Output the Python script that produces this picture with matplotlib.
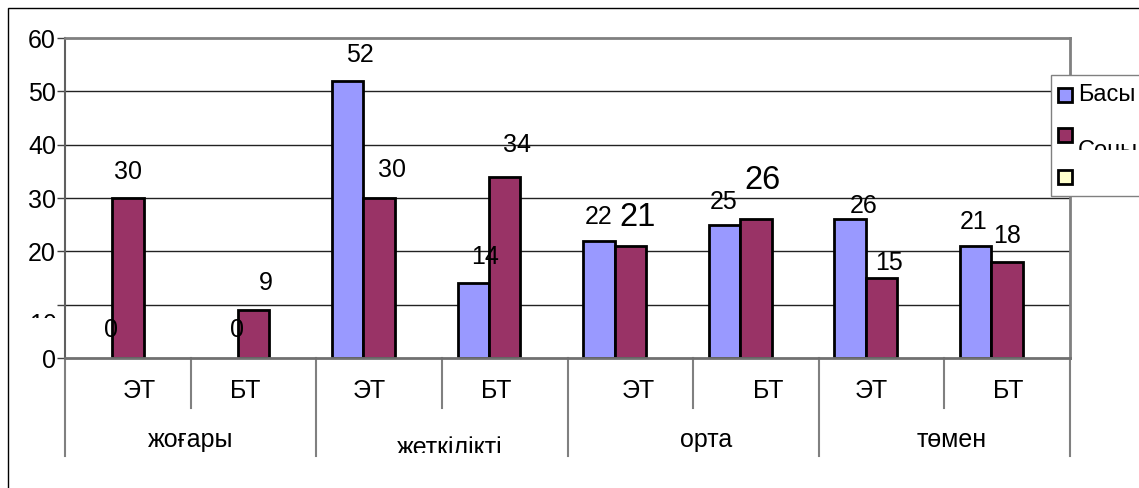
import matplotlib
matplotlib.use("Agg")
import matplotlib.pyplot as plt
import matplotlib.patches as patches
from matplotlib.transforms import Bbox, TransformedBbox
import numpy as np

plt.rcParams['font.family'] = ['Liberation Sans', 'DejaVu Sans']

# Деректер
топтар = ["жоғары", "жеткілікті", "орта", "төмен"]
ішкі_санаттар = ["ЭТ", "БТ", "ЭТ", "БТ", "ЭТ", "БТ", "ЭТ", "БТ"]
басы = [0, 0, 52, 14, 22, 25, 26, 21]
соңы = [30, 9, 30, 34, 21, 26, 15, 18]
серия_аттары = ["Басы", "Соңы", ""]

# Түстер (Excel палитрасы)
көк = "#9999FF"
қызыл = "#993366"
сары = "#FFFFCC"

# Жазулардың ығысуы (пиксель)
басы_ығысу = [(15, 28), (15, 28), (12, 26), (12, 26), (0, 24), (-1, 23), (13, 13), (-2, 24)]
соңы_ығысу = [(0, 26), (12, 27), (13, 28), (12, 32), (7, 28), (7, 39), (7, 15), (0, 26)]
соңы_үлкен = [False, False, False, False, True, True, False, False]
санат_ығысу = [11, -8, -10, -8, 8, 12, -10, 1]
топ_ығысу = [0, 8, 13, 7]

W, H = 1139, 488
fig = plt.figure(figsize=(W / 100, H / 100), dpi=100)


def fx(px):
    return px / W


def fy(py):
    return 1 - py / H


# Сыртқы жақтау
fig.patches.append(patches.Rectangle((fx(8), -0.2), 1.2, fy(8) + 0.2, transform=fig.transFigure,
                                     fill=False, edgecolor="black", lw=1))

ax = fig.add_axes([fx(65), fy(358), fx(1070) - fx(65), fy(38) - fy(358)])
ax.set_xlim(-0.5, 7.5)
ax.set_ylim(0, 60)

x = np.arange(len(басы))
w = 0.25
ax.bar(x - w, басы, w, color=көк, edgecolor=["black" if v else "none" for v in басы], lw=2, zorder=3)
ax.bar(x, соңы, w, color=қызыл, edgecolor=["black" if v else "none" for v in соңы], lw=2, zorder=3)

# Тор сызықтары
ax.set_yticks(range(0, 61, 10))
ax.set_yticklabels(["0", "", "20", "30", "40", "50", "60"], fontsize=18)
ax.tick_params(axis="y", length=6, width=1, color="#404040", pad=0.5)
for yv in range(10, 60, 10):
    ax.axhline(yv, color="#222222", lw=1, zorder=1)
ax.set_xticks([])
for s in ["top", "right"]:
    ax.spines[s].set_color("#808080")
    ax.spines[s].set_linewidth(2)
ax.spines["left"].set_color("#606060")
ax.spines["left"].set_linewidth(1.5)
ax.spines["bottom"].set_color("#707070")
ax.spines["bottom"].set_linewidth(2)
ax.spines["bottom"].set_zorder(4)

# "10" белгісі — жартылай кесілген
t10 = fig.text(fx(57), fy(313), "10", ha="right", va="top", fontsize=18)
t10.set_clip_box(TransformedBbox(Bbox.from_extents(0, fy(318), fx(64), fy(300)), fig.transFigure))
t10.set_clip_on(True)

# Мәндер жазулары
for i, v in enumerate(басы):
    dx, dy = басы_ығысу[i]
    ax.annotate(str(v), (x[i] - w, v), xytext=(dx, dy), textcoords="offset pixels",
                ha="center", va="center", fontsize=18, annotation_clip=False, zorder=5)
for i, v in enumerate(соңы):
    dx, dy = соңы_ығысу[i]
    ax.annotate(str(v), (x[i], v), xytext=(dx, dy), textcoords="offset pixels",
                ha="center", va="center", fontsize=23.5 if соңы_үлкен[i] else 18,
                annotation_clip=False, zorder=5)

# Категориялар осі
xt = ax.get_xaxis_transform()
px_h = 358 - 38
def ay(py):
    return -(py - 358) / px_h

for i, lab in enumerate(ішкі_санаттар):
    ax.annotate(lab, (x[i], ay(398)), xycoords=xt, xytext=(санат_ығысу[i], 0),
                textcoords="offset pixels", ha="center", va="baseline", fontsize=18,
                annotation_clip=False)

for k in range(len(ішкі_санаттар) + 1):
    xb = k - 0.5
    bottom = ay(456) if k % 2 == 0 else ay(408)
    ax.plot([xb, xb], [0, bottom], transform=xt, color="#808080", lw=1.5, clip_on=False)

for g, name in enumerate(топтар):
    base = 455 if g == 1 else 447
    tg = ax.annotate(name, (2 * g + 0.5, ay(base)), xycoords=xt, xytext=(топ_ығысу[g], 0),
                     textcoords="offset pixels", ha="center", va="baseline", fontsize=18,
                     annotation_clip=False)
    if g == 1:
        tg.set_clip_box(TransformedBbox(Bbox.from_extents(0, fy(453), 1, fy(420)), fig.transFigure))
        tg.set_clip_on(True)

# Аңыз (legend) — сурет шетінде кесілген
fig.patches.append(patches.Rectangle((fx(1051), fy(196)), 0.2, fy(75) - fy(196),
                                     transform=fig.transFigure, facecolor="white",
                                     edgecolor="#808080", lw=1, zorder=10))
for col, cy, name, top_clip in [(көк, 95, серия_аттары[0], None),
                                (қызыл, 135, серия_аттары[1], 150),
                                (сары, 177, серия_аттары[2], None)]:
    fig.patches.append(patches.Rectangle((fx(1058), fy(cy + 7)), fx(14), fy(cy - 7) - fy(cy + 7),
                                         transform=fig.transFigure, facecolor=col,
                                         edgecolor="black", lw=2, zorder=11))
    if name:
        ty = cy if top_clip is None else 150.5
        tl = fig.text(fx(1078), fy(ty), name, ha="left", va="center", fontsize=17, zorder=12)
        if top_clip is not None:
            tl.set_clip_box(TransformedBbox(Bbox.from_extents(fx(1074), fy(top_clip), 1, fy(130)),
                                            fig.transFigure))
            tl.set_clip_on(True)

fig.savefig("out.png", dpi=100)
